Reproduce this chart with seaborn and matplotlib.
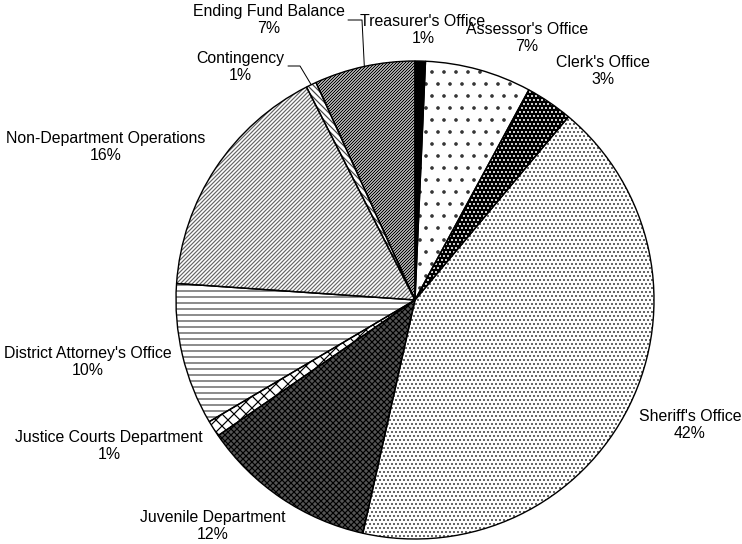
import numpy as np
import seaborn as sns
import matplotlib.pyplot as plt

# budget shares, clockwise from 12 o'clock
departments = [
    "Treasurer's Office", "Assessor's Office", "Clerk's Office", "Sheriff's Office",
    "Juvenile Department", "Justice Courts Department", "District Attorney's Office",
    "Non-Department Operations", "Contingency", "Ending Fund Balance",
]
shares = [0.7, 7.2, 3.2, 42.4, 11.9, 1.1, 9.6, 16.4, 0.7, 6.8]

# fill styles: (face, hatch, hatch colour)
styles = [
    ("black", "", "black"),
    ("white", ".", "#333333"),
    ("black", "...", "white"),
    ("white", "...", "#444444"),
    ("#555555", "xxxx", "black"),
    ("white", "xx", "black"),
    ("white", "--", "#444444"),
    ("white", "//////", "#666666"),
    ("white", "\\\\\\\\", "#444444"),
    ("white", "////////", "black"),
]

# label centres in pixels (layout only) and which labels get a leader line
label_px = [(423, 30), (527, 38), (603, 71), (690, 425), (213, 526),
            (109, 446), (88, 362), (106, 147), (240, 67), (269, 20)]
leaders = {8: (288, 300, 66), 9: (348, 362, 20)}

W, H, DPI = 742, 544, 72
CX, CY, R = 415, 300, 239


def to_data(px, py):
    return (px - CX) / R, (CY - py) / R


def main():
    sns.set_theme(style="white")
    plt.rcParams["font.family"] = ["Liberation Sans", "DejaVu Sans"]
    plt.rcParams["hatch.linewidth"] = 1.2

    fig = plt.figure(figsize=(W / DPI, H / DPI), dpi=DPI)
    ax = fig.add_axes([0, 0, 1, 1])

    wedges, _ = ax.pie(shares, startangle=90, counterclock=False, radius=1,
                       wedgeprops=dict(linewidth=0))
    for w, (face, hatch, hc) in zip(wedges, styles):
        w.set_facecolor(face)
        w.set_edgecolor(hc)
        w.set_hatch(hatch)

    # outlines on top
    ax.pie(shares, startangle=90, counterclock=False, radius=1,
           wedgeprops=dict(facecolor="none", edgecolor="black", linewidth=1.4))

    total = sum(shares)
    for i, (name, v) in enumerate(zip(departments, shares)):
        x, y = to_data(*label_px[i])
        ax.text(x, y, f"{name}\n{round(v / total * 100)}%", ha="center", va="center",
                fontsize=15.9, linespacing=1.2, color="black")
        if i in leaders:
            w = wedges[i]
            mid = np.deg2rad((w.theta1 + w.theta2) / 2)
            rx, ry = np.cos(mid), np.sin(mid)
            x0, x1, py = leaders[i]
            ax0, ay = to_data(x0, py)
            ax1, _ = to_data(x1, py)
            ax.plot([ax0, ax1, rx], [ay, ay, ry], color="black", linewidth=1)

    ax.set_xlim(-CX / R, (W - CX) / R)
    ax.set_ylim((CY - H) / R, CY / R)
    ax.set_aspect("auto")
    ax.axis("off")

    fig.savefig("out.png", dpi=DPI, facecolor="white")


if __name__ == "__main__":
    main()
